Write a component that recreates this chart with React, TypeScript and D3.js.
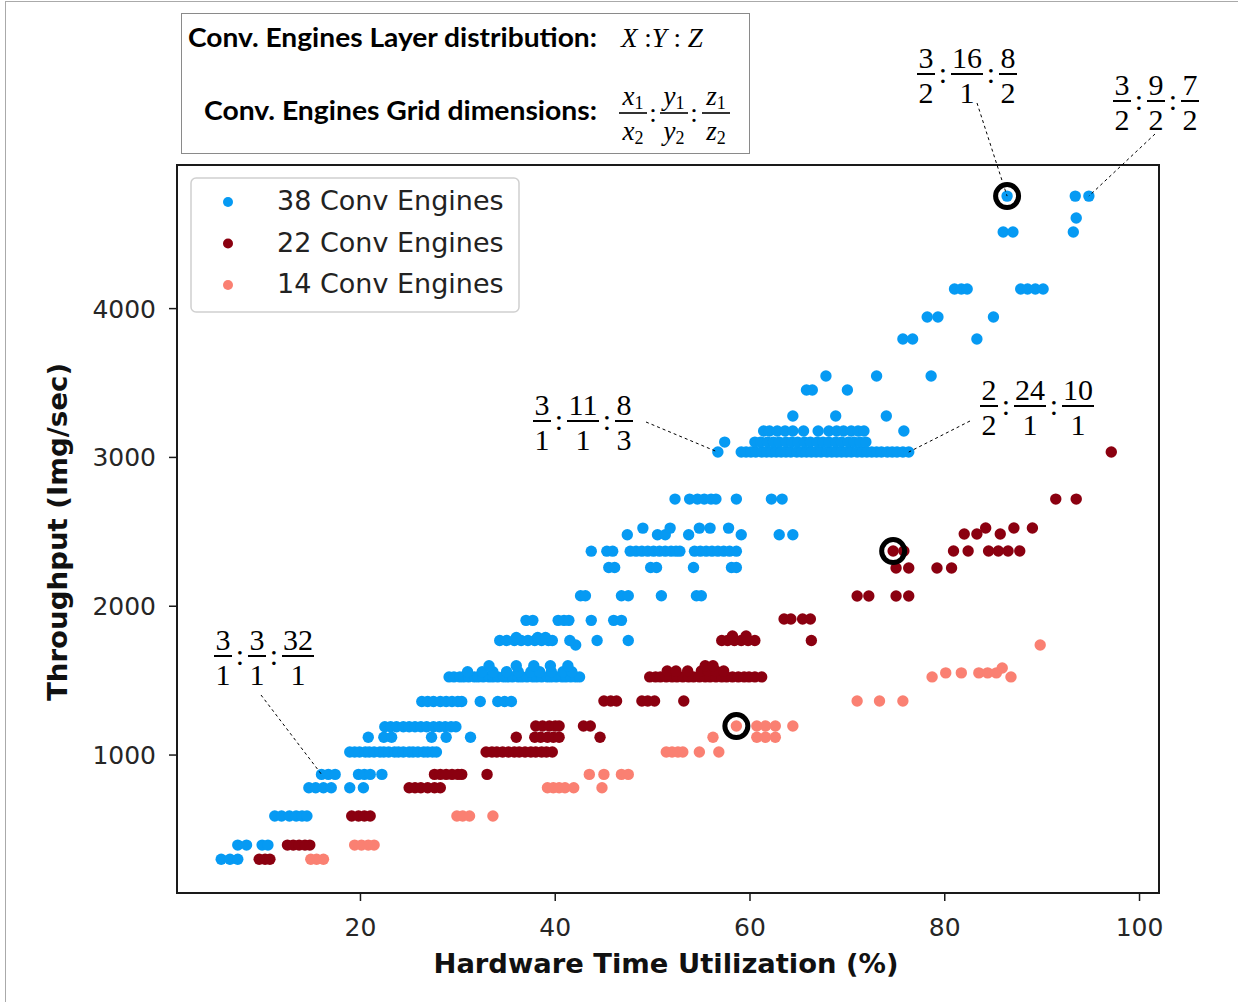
import * as d3 from "d3";

// throughput level (Img/sec) -> hardware time utilization (%) of each config
const engines38: [number, number[]][] = [
  [300, [5.7, 6.6, 7.4]],
  [395, [7.4, 8.3, 9.9, 10.5]],
  [590, [11.2, 11.9, 12.7, 13.4, 14.0, 14.5]],
  [780, [14.7, 15.4, 16.2, 17.0, 18.9, 20.3]],
  [870, [16.0, 16.7, 17.4, 19.8, 20.4, 21.0, 22.2]],
  [1020, [18.9, 19.4, 19.9, 20.5, 20.9, 21.4, 22.0, 22.4, 22.9, 23.5, 23.9, 24.4, 25.0, 25.4, 25.9, 26.5, 26.9, 27.4, 27.8]],
  [1120, [20.8, 22.4, 23.2, 27.3, 28.8, 31.3]],
  [1190, [22.5, 23.1, 23.7, 24.4, 25.0, 25.6, 26.2, 26.8, 27.5, 28.1, 28.7, 29.3, 29.8]],
  [1360, [26.3, 26.9, 27.5, 28.2, 28.8, 29.4, 30.0, 30.4, 32.3, 34.1, 34.8, 35.5]],
  [1525, [29.1, 29.6, 30.2, 30.6, 31.1, 31.7, 32.1, 32.6, 33.2, 33.6, 34.1, 34.7, 35.1, 35.6, 36.2, 36.6, 37.1, 37.7, 38.1, 38.6, 39.2, 39.6, 40.1, 40.7, 41.1, 41.6, 42.1, 42.5]],
  [1560, [31.0, 32.5, 33.6, 35.0, 36.2, 37.5, 38.4, 39.6, 40.8, 41.7]],
  [1600, [33.2, 36.0, 37.8, 39.5, 41.3]],
  [1740, [42.1]],
  [1770, [34.3, 35.0, 35.8, 36.5, 37.2, 37.9, 38.6, 39.3, 39.7, 41.5, 44.3, 47.5]],
  [1790, [36.0, 38.2, 39.0]],
  [1905, [37.0, 37.7, 40.3, 40.9, 41.4, 43.7, 46.0, 46.8]],
  [2070, [42.6, 43.1, 46.8, 47.5, 50.9, 54.5, 55.0]],
  [2260, [45.5, 46.1, 49.8, 50.4, 54.2, 58.1, 58.6]],
  [2370, [43.7, 45.3, 45.9, 47.7, 48.3, 48.9, 49.5, 50.1, 50.7, 51.3, 51.9, 52.4, 52.8, 54.3, 54.9, 55.5, 56.1, 56.7, 57.3, 57.9, 58.6]],
  [2480, [47.4, 50.5, 51.3, 53.7, 59.1, 63.0, 64.4]],
  [2525, [49.0, 51.8, 54.8, 55.9, 57.8]],
  [2720, [52.3, 53.8, 54.6, 55.3, 56.0, 56.5, 58.6, 62.2, 63.3]],
  [3036, [56.7, 59.1, 59.6, 60.1, 60.6, 61.2, 61.7, 62.2, 62.7, 63.2, 63.7, 64.2, 64.8, 65.3, 65.8, 66.3, 66.8, 67.3, 67.9, 68.4, 68.9, 69.4, 69.9, 70.4, 71.0, 71.5, 72.0, 72.5, 73.0, 73.5, 74.1, 74.6, 75.1, 75.7, 76.3]],
  [3103, [57.4, 60.5, 61.1, 61.8, 62.4, 63.0, 63.7, 64.3, 64.9, 65.6, 66.2, 66.9, 67.5, 68.1, 68.8, 69.4, 70.1, 70.7, 71.3, 71.9]],
  [3178, [61.4, 62.0, 62.8, 63.6, 64.4, 65.5, 67.0, 68.1, 68.9, 69.6, 70.4, 71.1, 71.7, 75.8]],
  [3278, [64.4, 68.8, 74.0]],
  [3453, [65.8, 66.4, 70.0]],
  [3547, [67.8, 73.0, 78.6]],
  [3796, [75.7, 76.7, 83.3]],
  [3944, [78.2, 79.3, 85.0]],
  [4132, [81.0, 81.7, 82.3, 87.8, 88.5, 89.3, 90.1]],
  [4515, [86.0, 87.0, 93.2]],
  [4609, [93.5]],
  [4756, [86.4, 93.4, 94.8]],
];

const engines22: [number, number[]][] = [
  [300, [9.6, 10.2, 10.7]],
  [395, [12.5, 13.1, 13.7, 14.3, 14.8]],
  [590, [19.1, 19.8, 20.4, 21.0]],
  [780, [25.0, 25.6, 26.2, 26.9, 27.6, 28.2]],
  [870, [27.6, 28.2, 28.8, 29.4, 30.0, 30.4, 33.0]],
  [1020, [32.9, 33.5, 34.0, 34.6, 35.2, 35.8, 36.3, 36.9, 37.5, 38.0, 38.6, 39.1, 39.7]],
  [1120, [36.0, 37.9, 38.5, 39.2, 39.8, 40.4, 44.6]],
  [1195, [38.0, 38.7, 39.4, 40.0, 40.4, 42.9, 43.6]],
  [1363, [45.0, 45.7, 46.3, 48.9, 49.5, 50.2, 53.2]],
  [1525, [49.7, 50.3, 50.8, 51.4, 52.0, 52.5, 53.1, 53.7, 54.2, 54.8, 55.4, 55.9, 56.5, 57.1, 57.6, 58.2, 58.8, 59.4, 59.9, 60.5, 61.2]],
  [1565, [51.5, 52.4, 53.6, 55.0, 55.7, 56.5, 57.3]],
  [1600, [55.4, 56.2]],
  [1770, [57.1, 57.7, 58.4, 59.1, 59.8, 60.5, 66.3]],
  [1800, [58.2, 59.6]],
  [1914, [63.5, 64.2, 65.4, 66.2]],
  [2069, [71.0, 72.2, 75.0, 76.3]],
  [2257, [75.0, 76.3, 79.2, 80.7]],
  [2371, [74.7, 75.8, 80.9, 82.4, 84.5, 85.5, 86.5, 87.7]],
  [2485, [82.0, 83.3, 85.7]],
  [2526, [84.2, 87.1, 89.0]],
  [2720, [91.4, 93.5]],
  [3036, [97.1]],
];

const engines14: [number, number[]][] = [
  [300, [14.9, 15.5, 16.2]],
  [395, [19.4, 20.1, 20.8, 21.4]],
  [590, [29.9, 30.5, 31.2, 33.6]],
  [780, [39.2, 39.8, 40.4, 41.0, 41.9, 44.8]],
  [870, [43.5, 45.0, 46.8, 47.5]],
  [1020, [51.4, 52.0, 52.6, 53.1, 54.8, 56.8]],
  [1120, [56.2, 60.7, 61.6, 62.6]],
  [1195, [58.6, 60.7, 61.6, 62.6, 64.4]],
  [1363, [71.0, 73.3, 75.7]],
  [1525, [78.7, 86.8]],
  [1552, [80.1, 81.7, 83.5, 84.4, 85.3]],
  [1585, [85.9]],
  [1740, [89.8]],
];

const seriesNames = ["38 Conv Engines", "22 Conv Engines", "14 Conv Engines"];
const seriesColors = ["#069AF3", "#8B0010", "#FA8072"];
const xTicks = [20, 40, 60, 80, 100];
const yTicks = [1000, 2000, 3000, 4000];

// circled configs [util, throughput]
const highlighted: [number, number][] = [
  [86.4, 4756],
  [74.7, 2371],
  [58.6, 1195],
];

// grid-dimension labels: fractions, label position (px), target point
const ratioLabels: { parts: string[][]; left: number; bar: number; from: [number, number]; to: [number, number] }[] = [
  { parts: [["3", "2"], ["16", "1"], ["8", "2"]], left: 917, bar: 74, from: [977, 103], to: [86.4, 4756] },
  { parts: [["3", "2"], ["9", "2"], ["7", "2"]], left: 1113, bar: 101, from: [1155, 134], to: [94.8, 4756] },
  { parts: [["3", "1"], ["11", "1"], ["8", "3"]], left: 533, bar: 421, from: [646, 422], to: [56.7, 3036] },
  { parts: [["2", "2"], ["24", "1"], ["10", "1"]], left: 980, bar: 406, from: [970, 421], to: [76.3, 3036] },
  { parts: [["3", "1"], ["3", "1"], ["32", "1"]], left: 214, bar: 656, from: [261, 695], to: [16.0, 870] },
];

function Ratio({ parts, left, bar }: { parts: string[][]; left: number; bar: number }) {
  let cx = left;
  const els: any[] = [];
  parts.forEach(([n, d], i) => {
    const w = Math.max(n.length, d.length) * 14 + 4;
    els.push(
      <g key={i}>
        <text x={cx + w / 2} y={bar - 6} textAnchor="middle">{n}</text>
        <line x1={cx} x2={cx + w} y1={bar} y2={bar} stroke="#000" strokeWidth={2} />
        <text x={cx + w / 2} y={bar + 29} textAnchor="middle">{d}</text>
      </g>
    );
    cx += w;
    if (i < parts.length - 1) {
      els.push(
        <text key={"c" + i} x={cx + 8} y={bar + 9} textAnchor="middle">:</text>
      );
      cx += 16;
    }
  });
  return (
    <g fontFamily="'Liberation Serif', 'DejaVu Serif', serif" fontSize={30} fill="#000">
      {els}
    </g>
  );
}

function SymFrac({ cx, letter }: { cx: number; letter: string }) {
  return (
    <g>
      <text x={cx} y={105} textAnchor="middle">
        <tspan fontStyle="italic">{letter}</tspan>
        <tspan fontSize={18} dy={4}>1</tspan>
      </text>
      <line x1={cx - 14} x2={cx + 14} y1={113} y2={113} stroke="#000" strokeWidth={1.6} />
      <text x={cx} y={140} textAnchor="middle">
        <tspan fontStyle="italic">{letter}</tspan>
        <tspan fontSize={18} dy={4}>2</tspan>
      </text>
    </g>
  );
}

export default function App() {
  const x = d3.scaleLinear().domain([1.16, 102]).range([177, 1159]);
  const y = d3.scaleLinear().domain([73, 4965]).range([893, 165]);
  const allSeries = [engines38, engines22, engines14];
  const tickFont = "'DejaVu Sans', sans-serif";

  return (
    <div style={{ position: "absolute", left: 0, top: 0 }}>
      <svg width={1238} height={1002} style={{ display: "block", background: "#fff" }}>
        <rect x={5.5} y={1.5} width={1240} height={1010} fill="none" stroke="#aaa" strokeWidth={1} />

        {/* header box */}
        <rect x={181.5} y={13.5} width={568} height={140} fill="#fff" stroke="#8a8a8a" strokeWidth={1} />
        <g fontFamily="Lato, 'Open Sans', sans-serif" fontWeight={700} fontSize={26} fill="#000">
          <text x={188} y={47} textLength={409} lengthAdjust="spacingAndGlyphs">
            Conv. Engines Layer distribution:
          </text>
          <text x={204} y={120} textLength={393} lengthAdjust="spacingAndGlyphs">
            Conv. Engines Grid dimensions:
          </text>
        </g>
        <g fontFamily="'Liberation Serif', 'DejaVu Serif', serif" fontSize={27} fill="#000">
          <text x={621} y={47}>
            <tspan fontStyle="italic">X</tspan>
            <tspan> :</tspan>
            <tspan fontStyle="italic">Y</tspan>
            <tspan> : </tspan>
            <tspan fontStyle="italic">Z</tspan>
          </text>
          <SymFrac cx={633} letter="x" />
          <text x={653} y={122} textAnchor="middle">:</text>
          <SymFrac cx={674} letter="y" />
          <text x={694} y={122} textAnchor="middle">:</text>
          <SymFrac cx={716} letter="z" />
        </g>

        {/* plot frame */}
        <rect x={177} y={165} width={982} height={728} fill="none" stroke="#1a1a1a" strokeWidth={2} />

        {/* ticks */}
        {xTicks.map((t) => (
          <g key={"x" + t}>
            <line x1={x(t)} x2={x(t)} y1={893} y2={901} stroke="#1a1a1a" strokeWidth={1.5} />
            <text x={x(t)} y={936} textAnchor="middle" fontFamily={tickFont} fontSize={25} fill="#262626">
              {t}
            </text>
          </g>
        ))}
        {yTicks.map((t) => (
          <g key={"y" + t}>
            <line x1={169} x2={177} y1={y(t)} y2={y(t)} stroke="#1a1a1a" strokeWidth={1.5} />
            <text x={156} y={y(t) + 9} textAnchor="end" fontFamily={tickFont} fontSize={25} fill="#262626">
              {t}
            </text>
          </g>
        ))}

        {/* axis labels */}
        <text x={666} y={973} textAnchor="middle" fontFamily={tickFont} fontWeight={700} fontSize={26}
          fill="#111" textLength={465} lengthAdjust="spacingAndGlyphs">
          Hardware Time Utilization (%)
        </text>
        <text transform="translate(67,532) rotate(-90)" textAnchor="middle" fontFamily={tickFont}
          fontWeight={700} fontSize={26} fill="#111" textLength={338} lengthAdjust="spacingAndGlyphs">
          Throughput (Img/sec)
        </text>

        {/* scatter */}
        {allSeries.map((rows, si) => (
          <g key={si} fill={seriesColors[si]}>
            {rows.flatMap(([tp, utils]) =>
              utils.map((u, k) => <circle key={tp + "-" + k} cx={x(u)} cy={y(tp)} r={5.7} />)
            )}
          </g>
        ))}

        {/* highlighted configs */}
        {highlighted.map(([u, tp], i) => (
          <circle key={i} cx={x(u)} cy={y(tp)} r={11.5} fill="none" stroke="#000" strokeWidth={5} />
        ))}

        {/* annotations */}
        {ratioLabels.map((a, i) => (
          <g key={i}>
            <line x1={a.from[0]} y1={a.from[1]} x2={x(a.to[0])} y2={y(a.to[1])}
              stroke="#000" strokeWidth={1} strokeDasharray="3,3" />
            <Ratio parts={a.parts} left={a.left} bar={a.bar} />
          </g>
        ))}

        {/* legend */}
        <rect x={191} y={178} width={328} height={134} rx={5} fill="#fff" fillOpacity={0.85}
          stroke="#d0d0d0" strokeWidth={1.5} />
        {seriesNames.map((name, i) => (
          <g key={name}>
            <circle cx={228} cy={202 + i * 41.5} r={5} fill={seriesColors[i]} />
            <text x={277} y={210 + i * 41.5} fontFamily={tickFont} fontSize={27} fill="#222">
              {name}
            </text>
          </g>
        ))}
      </svg>
    </div>
  );
}
